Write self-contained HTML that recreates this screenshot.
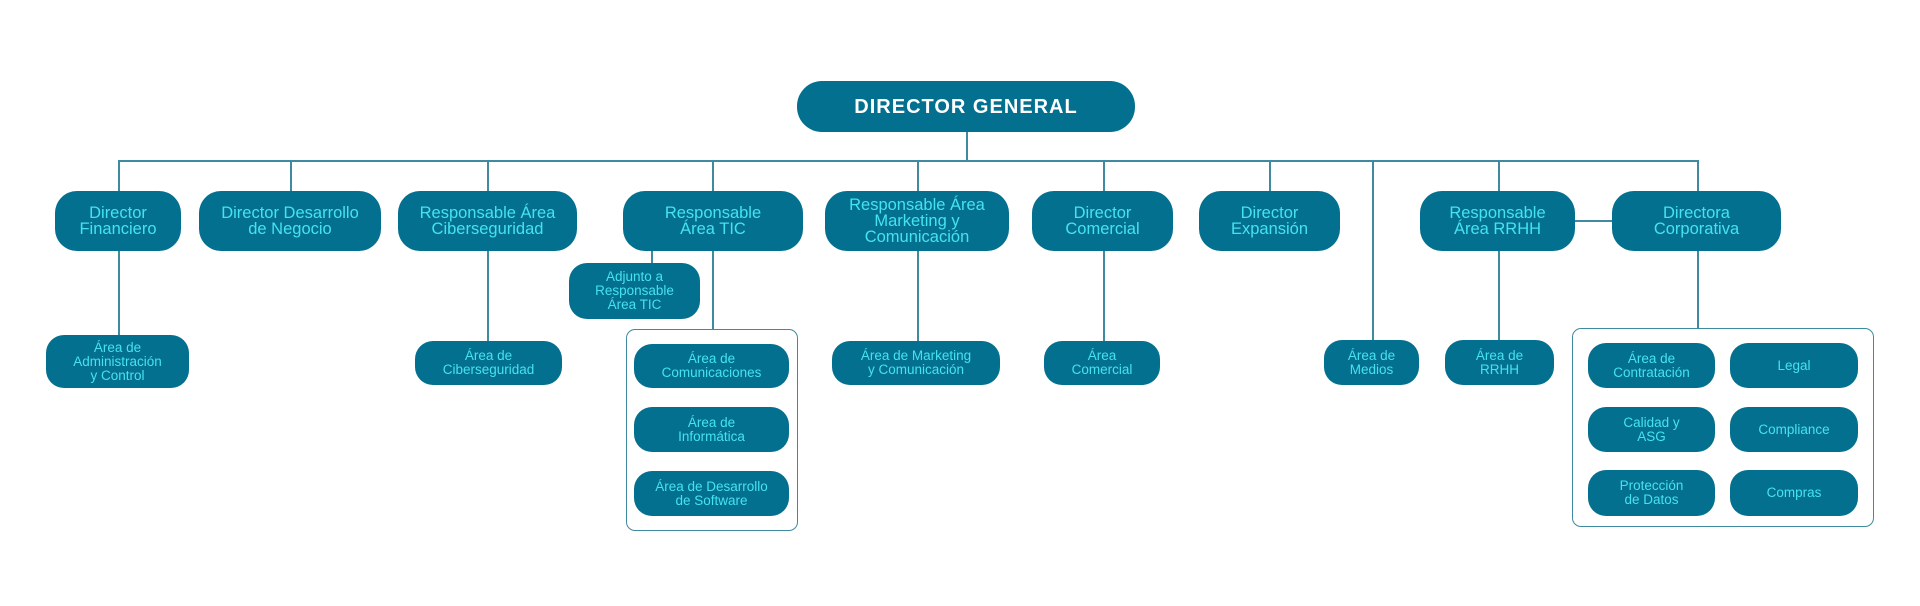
<!DOCTYPE html>
<html><head><meta charset="utf-8"><style>
html,body{margin:0;padding:0;background:#fff;}
body{width:1920px;height:606px;position:relative;overflow:hidden;font-family:"Liberation Sans",sans-serif;}
.b{position:absolute;background:#04708f;border-radius:22px;color:#45e3f0;display:flex;align-items:center;justify-content:center;text-align:center;box-sizing:border-box;font-size:16.5px;line-height:16px;}
.s{font-size:13.5px;line-height:14px;border-radius:18px;}
.h{position:absolute;background:#3f8aa0;height:1.5px;}
.v{position:absolute;background:#3f8aa0;width:1.5px;}
.c{position:absolute;border:1.5px solid #3f8aa0;border-radius:9px;box-sizing:border-box;}
</style></head><body>
<div class="b" style="left:797px;top:81px;width:338px;height:51px;border-radius:25px;color:#fff;font-weight:bold;font-size:20px;letter-spacing:1px;">DIRECTOR GENERAL</div>
<div class="v" style="left:966px;top:132px;height:28px"></div>
<div class="h" style="left:118px;top:160px;width:1580px"></div>
<div class="v" style="left:118px;top:160px;height:176px"></div>
<div class="v" style="left:290px;top:160px;height:31px"></div>
<div class="v" style="left:487px;top:160px;height:182px"></div>
<div class="v" style="left:712px;top:160px;height:170px"></div>
<div class="v" style="left:651px;top:251px;height:12px"></div>
<div class="v" style="left:917px;top:160px;height:182px"></div>
<div class="v" style="left:1103px;top:160px;height:182px"></div>
<div class="v" style="left:1269px;top:160px;height:31px"></div>
<div class="v" style="left:1372px;top:160px;height:181px"></div>
<div class="v" style="left:1498px;top:160px;height:181px"></div>
<div class="v" style="left:1697px;top:160px;height:169px"></div>
<div class="h" style="left:1575px;top:220px;width:37px;height:2px"></div>

<div class="b" style="left:55px;top:191px;width:126px;height:60px">Director<br>Financiero</div>
<div class="b" style="left:199px;top:191px;width:182px;height:60px">Director Desarrollo<br>de Negocio</div>
<div class="b" style="left:398px;top:191px;width:179px;height:60px">Responsable Área<br>Ciberseguridad</div>
<div class="b" style="left:623px;top:191px;width:180px;height:60px">Responsable<br>Área TIC</div>
<div class="b" style="left:825px;top:191px;width:184px;height:60px">Responsable Área<br>Marketing y<br>Comunicación</div>
<div class="b" style="left:1032px;top:191px;width:141px;height:60px">Director<br>Comercial</div>
<div class="b" style="left:1199px;top:191px;width:141px;height:60px">Director<br>Expansión</div>
<div class="b" style="left:1420px;top:191px;width:155px;height:60px">Responsable<br>Área RRHH</div>
<div class="b" style="left:1612px;top:191px;width:169px;height:60px">Directora<br>Corporativa</div>

<div class="b s" style="left:569px;top:263px;width:131px;height:56px">Adjunto a<br>Responsable<br>Área TIC</div>
<div class="b s" style="left:46px;top:335px;width:143px;height:53px">Área de<br>Administración<br>y Control</div>
<div class="b s" style="left:415px;top:341px;width:147px;height:44px">Área de<br>Ciberseguridad</div>
<div class="b s" style="left:832px;top:341px;width:168px;height:44px">Área de Marketing<br>y Comunicación</div>
<div class="b s" style="left:1044px;top:341px;width:116px;height:44px">Área<br>Comercial</div>
<div class="b s" style="left:1324px;top:340px;width:95px;height:45px">Área de<br>Medios</div>
<div class="b s" style="left:1445px;top:340px;width:109px;height:45px">Área de<br>RRHH</div>

<div class="c" style="left:626px;top:329px;width:172px;height:202px"></div>
<div class="b s" style="left:634px;top:344px;width:155px;height:44px">Área de<br>Comunicaciones</div>
<div class="b s" style="left:634px;top:407px;width:155px;height:45px">Área de<br>Informática</div>
<div class="b s" style="left:634px;top:471px;width:155px;height:45px">Área de Desarrollo<br>de Software</div>

<div class="c" style="left:1572px;top:328px;width:302px;height:199px"></div>
<div class="b s" style="left:1588px;top:343px;width:127px;height:45px">Área de<br>Contratación</div>
<div class="b s" style="left:1730px;top:343px;width:128px;height:45px">Legal</div>
<div class="b s" style="left:1588px;top:407px;width:127px;height:45px">Calidad y<br>ASG</div>
<div class="b s" style="left:1730px;top:407px;width:128px;height:45px">Compliance</div>
<div class="b s" style="left:1588px;top:470px;width:127px;height:46px">Protección<br>de Datos</div>
<div class="b s" style="left:1730px;top:470px;width:128px;height:46px">Compras</div>
</body></html>
